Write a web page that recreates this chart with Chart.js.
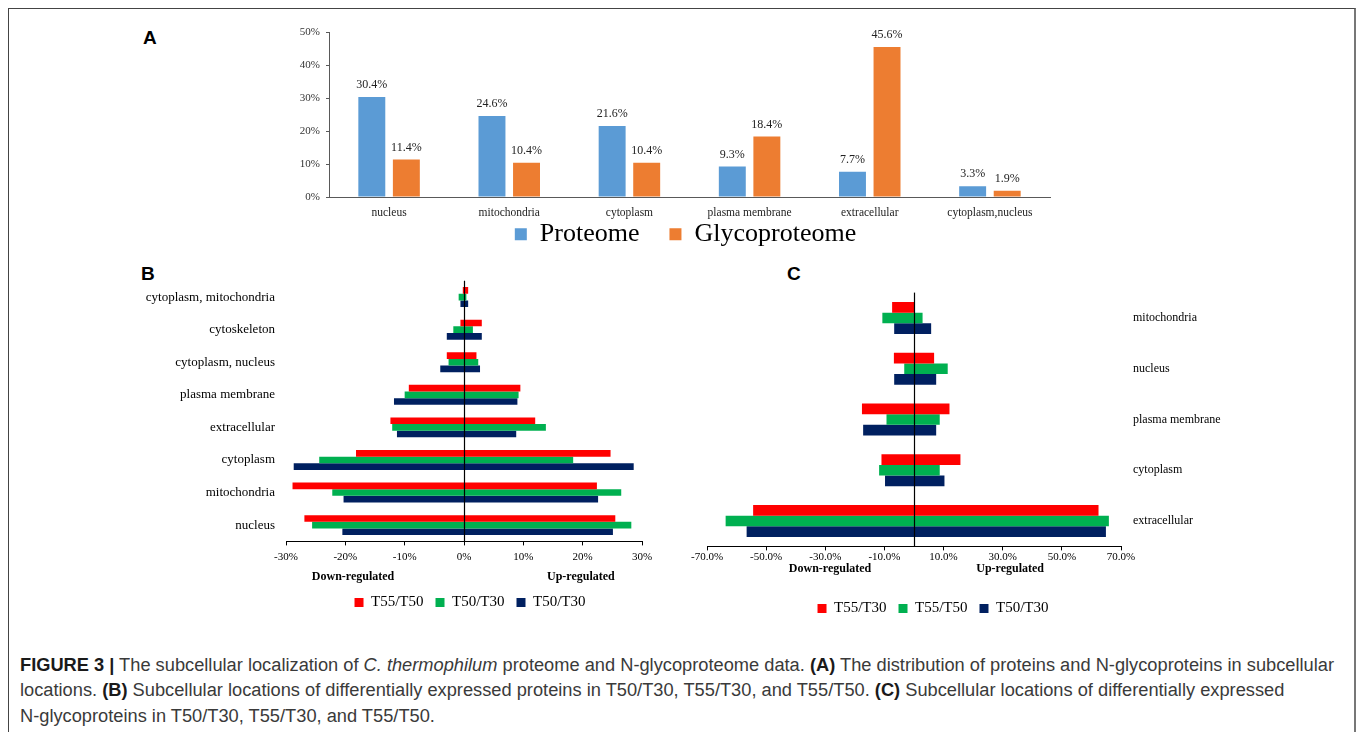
<!DOCTYPE html>
<html>
<head>
<meta charset="utf-8">
<script src="https://cdn.jsdelivr.net/npm/chart.js@4.4.1/dist/chart.umd.min.js"></script>
<style>
  html, body { margin: 0; padding: 0; background: #fff; }
  body { width: 1358px; height: 732px; position: relative; overflow: hidden; }
  .frame { position: absolute; left: 8px; top: 8px; width: 1348px; height: 800px;
           border-top: 1px solid #444; border-left: 1px solid #444; border-right: 2px solid #777;
           box-sizing: border-box; }
  .panel { position: absolute; }
  .tag { position: absolute; font: bold 19px "Liberation Sans", Arial, sans-serif; color: #000; line-height: 1; }
  .cap { position: absolute; left: 20px; white-space: nowrap; color: #3a3a3a; line-height: 25px;
         font: 18px "Liberation Sans Narrow", "Liberation Sans", Arial, sans-serif;
         transform-origin: 0 50%; }
  .cap b { color: #1a1a1a; }
</style>
</head>
<body>
<div class="frame"></div>

<div class="tag" style="left:143px;top:28px;">A</div>
<div class="tag" style="left:141px;top:264px;">B</div>
<div class="tag" style="left:787px;top:264px;">C</div>

<canvas id="chartA" class="panel" style="left:250px;top:20px;" width="815" height="265"></canvas>
<canvas id="chartB" class="panel" style="left:130px;top:262px;" width="540" height="358"></canvas>
<canvas id="chartC" class="panel" style="left:690px;top:265px;" width="560" height="361"></canvas>

<div class="cap" style="top:655px;"><b>FIGURE 3 |</b> The subcellular localization of <i>C. thermophilum</i> proteome and N-glycoproteome data. <b>(A)</b> The distribution of proteins and N-glycoproteins in subcellular</div>
<div class="cap" style="top:680px;">locations. <b>(B)</b> Subcellular locations of differentially expressed proteins in T50/T30, T55/T30, and T55/T50. <b>(C)</b> Subcellular locations of differentially expressed</div>
<div class="cap" style="top:706px;">N-glycoproteins in T50/T30, T55/T30, and T55/T50.</div>

<script>
// ---------- Panel A: share of proteins per subcellular location (%) ----------
const locationsA = ['nucleus', 'mitochondria', 'cytoplasm', 'plasma membrane', 'extracellular', 'cytoplasm,nucleus'];
const proteome = [30.4, 24.6, 21.6, 9.3, 7.7, 3.3];
const glycoproteome = [11.4, 10.4, 10.4, 18.4, 45.6, 1.9];

// ---------- Panel B: differentially expressed proteins (%), down / up ----------
const locationsB = ['cytoplasm, mitochondria', 'cytoskeleton', 'cytoplasm, nucleus', 'plasma membrane',
                    'extracellular', 'cytoplasm', 'mitochondria', 'nucleus'];
const bT55T50Down = [-0.2, -0.6, -2.9, -9.3, -12.4, -18.2, -28.9, -26.9];
const bT55T50Up   = [0.7, 3.0, 2.1, 9.5, 12.0, 24.7, 22.4, 25.5];
const bT50T30aDown = [-0.9, -1.8, -2.6, -10.0, -12.1, -24.4, -22.2, -25.6];
const bT50T30aUp   = [0.4, 1.5, 2.4, 9.2, 13.8, 18.4, 26.5, 28.2];
const bT50T30bDown = [-0.6, -2.9, -4.0, -11.8, -11.3, -28.7, -20.3, -20.5];
const bT50T30bUp   = [0.7, 3.0, 2.7, 9.0, 8.8, 28.6, 22.6, 25.1];

// ---------- Panel C: differentially expressed N-glycoproteins (%), down / up ----------
const locationsC = ['mitochondria', 'nucleus', 'plasma membrane', 'cytoplasm', 'extracellular'];
const cT55T30Down = [-7.4, -6.8, -17.6, -11.0, -54.4];
const cT55T30Up   = [0.0, 6.8, 12.0, 15.7, 62.4];
const cT55T50Down = [-10.7, -3.3, -9.3, -11.8, -63.7];
const cT55T50Up   = [2.9, 11.4, 8.7, 8.7, 65.9];
const cT50T30Down = [-6.7, -6.7, -17.2, -9.8, -56.6];
const cT50T30Up   = [5.8, 7.5, 7.5, 10.3, 64.9];

const SERIF = '"Liberation Serif", "Times New Roman", serif';
Chart.defaults.font.family = SERIF;
Chart.defaults.color = '#000';
Chart.defaults.animation = false;
Chart.defaults.events = [];
Chart.defaults.plugins.tooltip.enabled = false;

const span = (lo, hi) => lo.map((v, i) => [v, hi[i]]);
const pct = v => v + '%';

// value labels above bars
const valueLabels = {
  id: 'valueLabels',
  afterDatasetsDraw(chart) {
    const ctx = chart.ctx;
    ctx.save();
    ctx.font = '12px ' + SERIF;
    ctx.fillStyle = '#222';
    ctx.textAlign = 'center';
    ctx.textBaseline = 'bottom';
    chart.data.datasets.forEach((ds, di) => {
      chart.getDatasetMeta(di).data.forEach((bar, i) => {
        ctx.fillText(ds.data[i].toFixed(1) + '%', bar.x, bar.y - 6);
      });
    });
    ctx.restore();
  }
};

// vertical line at 0 drawn over the bars
const zeroLine = {
  id: 'zeroLine',
  afterDatasetsDraw(chart) {
    const x = Math.round(chart.scales.x.getPixelForValue(0)) + 0.5;
    const { top, bottom } = chart.chartArea;
    const ctx = chart.ctx;
    ctx.save();
    ctx.strokeStyle = '#000';
    ctx.lineWidth = 1.2;
    ctx.beginPath();
    ctx.moveTo(x, top);
    ctx.lineTo(x, bottom);
    ctx.stroke();
    ctx.restore();
  }
};

// "Down-regulated" / "Up-regulated" notes under the value axis
const sideNotes = {
  id: 'sideNotes',
  afterDraw(chart, args, opts) {
    const ctx = chart.ctx;
    ctx.save();
    ctx.font = 'bold 12px ' + SERIF;
    ctx.fillStyle = '#000';
    ctx.textAlign = 'center';
    ctx.textBaseline = 'middle';
    (opts.items || []).forEach(it => {
      ctx.fillText(it.text, chart.scales.x.getPixelForValue(it.at), chart.chartArea.bottom + opts.dy);
    });
    ctx.restore();
  }
};

// nudge the legend box after layout
const legendShift = {
  id: 'legendShift',
  afterLayout(chart, args, opts) {
    const lg = chart.legend;
    if (!lg) return;
    const dx = opts.dx || 0, dy = opts.dy || 0;
    lg.left += dx; lg.right += dx;
    lg.top += dy; lg.bottom += dy;
  }
};

// ---------------- Chart A ----------------
new Chart(document.getElementById('chartA'), {
  type: 'bar',
  data: {
    labels: locationsA,
    datasets: [
      { label: 'Proteome', data: proteome, backgroundColor: '#5B9BD5', borderWidth: 0 },
      { label: 'Glycoproteome', data: glycoproteome, backgroundColor: '#ED7D31', borderWidth: 0 }
    ]
  },
  options: {
    responsive: false,
    categoryPercentage: 0.575,
    barPercentage: 0.78,
    layout: { padding: { top: 11.7, right: 15, left: 0, bottom: 0 } },
    scales: {
      x: {
        grid: { display: false, drawTicks: false },
        border: { display: true, color: '#595959', width: 1 },
        ticks: { font: { size: 11.5 }, color: '#222', padding: 9, maxRotation: 0 },
        afterFit(s) { s.height = 22; }
      },
      y: {
        min: 0, max: 50,
        ticks: { stepSize: 10, callback: pct, font: { size: 11 }, color: '#333', padding: 6 },
        grid: { display: true, drawOnChartArea: false, drawTicks: true, tickLength: 3, color: '#595959' },
        border: { display: true, color: '#595959', width: 1 },
        afterFit(s) { s.width = 79; }
      }
    },
    plugins: {
      legend: {
        position: 'bottom', fullSize: false,
        labels: { font: { size: 26, family: SERIF }, color: '#000', boxWidth: 12, boxHeight: 12, padding: 30 }
      },
      legendShift: { dx: -4, dy: -27.7 }
    }
  },
  plugins: [valueLabels, legendShift]
});

// ---------------- Chart B ----------------
new Chart(document.getElementById('chartB'), {
  type: 'bar',
  data: {
    labels: locationsB,
    datasets: [
      { label: 'T55/T50', data: span(bT55T50Down, bT55T50Up), backgroundColor: '#FF0000', borderWidth: 0 },
      { label: 'T50/T30', data: span(bT50T30aDown, bT50T30aUp), backgroundColor: '#00B050', borderWidth: 0 },
      { label: 'T50/T30', data: span(bT50T30bDown, bT50T30bUp), backgroundColor: '#002060', borderWidth: 0 }
    ]
  },
  options: {
    responsive: false,
    indexAxis: 'y',
    categoryPercentage: 0.612,
    barPercentage: 1.0,
    layout: { padding: { top: 11, right: 28, left: 0, bottom: 0 } },
    scales: {
      x: {
        min: -30, max: 30,
        ticks: { stepSize: 10, callback: pct, font: { size: 11 }, color: '#000', padding: 5.6, maxRotation: 0 },
        grid: { display: true, drawOnChartArea: false, drawTicks: true, tickLength: 4, color: '#000' },
        border: { display: true, color: '#000', width: 1 },
        afterFit(s) { s.height = 41.6; }
      },
      y: {
        ticks: { font: { size: 13 }, color: '#000', padding: 11, autoSkip: false },
        grid: { display: false, drawTicks: false },
        border: { display: false },
        afterFit(s) { s.width = 156; }
      }
    },
    plugins: {
      legend: {
        position: 'bottom', fullSize: false,
        labels: { font: { size: 15, family: SERIF }, color: '#000', boxWidth: 9, boxHeight: 9, padding: 12 }
      },
      legendShift: { dx: 6 },
      sideNotes: { dy: 35.6, items: [{ text: 'Down-regulated', at: -18.7 }, { text: 'Up-regulated', at: 19.7 }] }
    }
  },
  plugins: [zeroLine, sideNotes, legendShift]
});

// ---------------- Chart C ----------------
new Chart(document.getElementById('chartC'), {
  type: 'bar',
  data: {
    labels: locationsC,
    datasets: [
      { label: 'T55/T30', data: span(cT55T30Down, cT55T30Up), backgroundColor: '#FF0000', borderWidth: 0 },
      { label: 'T55/T50', data: span(cT55T50Down, cT55T50Up), backgroundColor: '#00B050', borderWidth: 0 },
      { label: 'T50/T30', data: span(cT50T30Down, cT50T30Up), backgroundColor: '#002060', borderWidth: 0 }
    ]
  },
  options: {
    responsive: false,
    indexAxis: 'y',
    categoryPercentage: 0.63,
    barPercentage: 1.0,
    layout: { padding: { top: 27.6, right: 0, left: 17, bottom: 0 } },
    scales: {
      x: {
        min: -70, max: 70,
        ticks: { stepSize: 20, callback: v => v.toFixed(1) + '%', font: { size: 11 }, color: '#000', padding: 0, maxRotation: 0 },
        grid: { display: true, drawOnChartArea: false, drawTicks: true, tickLength: 4, color: '#000' },
        border: { display: true, color: '#000', width: 1 },
        afterFit(s) { s.height = 42.6; }
      },
      y: {
        position: 'right',
        ticks: { font: { size: 12 }, color: '#000', padding: 12, autoSkip: false },
        grid: { display: false, drawTicks: false },
        border: { display: false },
        afterFit(s) { s.width = 129; }
      }
    },
    plugins: {
      legend: {
        position: 'bottom', fullSize: false,
        labels: { font: { size: 15, family: SERIF }, color: '#000', boxWidth: 9, boxHeight: 9, padding: 12 }
      },
      legendShift: { dx: 19 },
      sideNotes: { dy: 22.6, items: [{ text: 'Down-regulated', at: -28.4 }, { text: 'Up-regulated', at: 32.5 }] }
    }
  },
  plugins: [zeroLine, sideNotes, legendShift]
});

// caption lines share one horizontal scale so the first line spans the figure width
(function fitCaption() {
  const caps = document.querySelectorAll('.cap');
  const w = caps[0].getBoundingClientRect().width;
  const k = 1314 / w;
  caps.forEach(c => { c.style.transform = 'scaleX(' + k + ')'; });
})();
</script>
</body>
</html>
